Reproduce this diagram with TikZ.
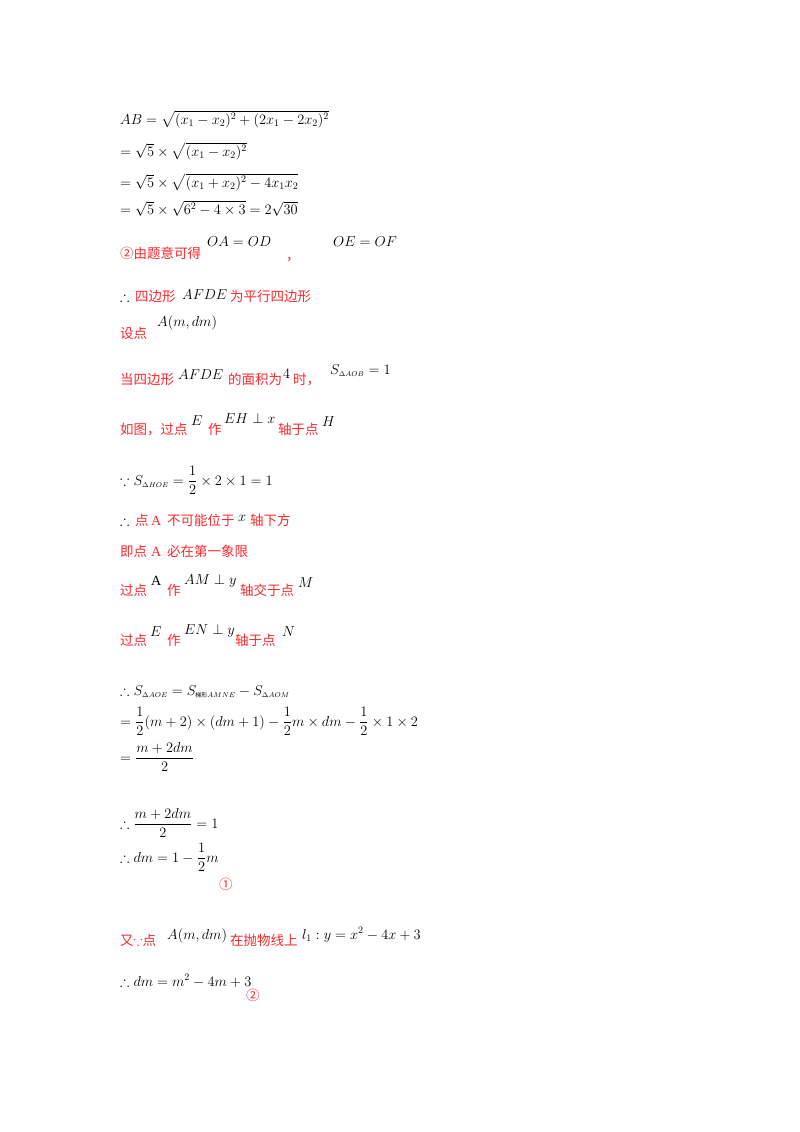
\documentclass[tikz,border=0pt]{standalone}
\usepackage{amsmath,amssymb}
\usepackage{fontspec}
\setmainfont{Liberation Serif}
\newfontfamily\cjk{Noto Sans CJK SC}
\definecolor{rd}{RGB}{250,40,45}
\begin{document}
\begin{tikzpicture}[x=1pt,y=-1pt,
 every node/.style={anchor=base west,inner sep=0pt,font=\fontsize{14}{17}\selectfont},
 r/.style={text=rd,font=\fontsize{13.5}{17}\selectfont\cjk}]
\useasboundingbox (0,0) rectangle (800,1132);
\node (l1) at (120,124) {$AB=\sqrt{(x_1-x_2)^2+(2x_1-2x_2)^2}$};
\node (l2) at (120,156) {$=\sqrt5\times\sqrt{(x_1-x_2)^2}$};
\node (l3) at (120,187) {$=\sqrt5\times\sqrt{(x_1+x_2)^2-4x_1x_2}$};
\node (l4) at (120,214) {$=\sqrt5\times\sqrt{6^2-4\times3}=2\sqrt{30}$};
\node[r] (a1) at (120,258) {②由题意可得};
\node (a2) at (207,246) {$OA=OD$};
\node[r] (a3) at (286,260) {，};
\node (a4) at (333,246) {$OE=OF$};
\node (b1) at (120,301) {$\therefore$};
\node[r] (b2) at (135,301) {四边形};
\node (b3) at (182,299) {$AFDE$};
\node[r] (b4) at (230,301) {为平行四边形};
\node[r] (c1) at (120,338) {设点};
\node (c2) at (157,326) {$A(m,dm)$};
\node[r] (d1) at (120,384) {当四边形};
\node (d2) at (178,379) {$AFDE$};
\node[r] (d3) at (228,384) {的面积为};
\node (d4) at (283,378) {$4$};
\node[r] (d5) at (293,384) {时，};
\node (d6) at (330,374) {$S_{\scriptscriptstyle\Delta AOB}=1$};
\node[r] (e1) at (120,434) {如图，过点};
\node (e2) at (191,425) {$E$};
\node[r] (e3) at (208,434) {作};
\node (e4) at (224,423) {$EH\perp x$};
\node[r] (e5) at (278,434) {轴于点};
\node (e6) at (322,426) {$H$};
\node (f1) at (120,485) {$\because S_{\scriptscriptstyle\Delta HOE}=\dfrac12\times2\times1=1$};
\node (g1) at (120,525) {$\therefore$};
\node[r] (g2) at (135,525) {点};
\node[text=rd] (g3) at (151,525) {A};
\node[r] (g4) at (167,525) {不可能位于};
\node (g5) at (238,521) {$x$};
\node[r] (g6) at (250,525) {轴下方};
\node[r] (h1) at (120,556) {即点};
\node[text=rd] (h2) at (151,556) {A};
\node[r] (h3) at (167,556) {必在第一象限};
\node[r] (i1) at (120,595) {过点};
\node (i2) at (151,585) {A};
\node[r] (i3) at (167,595) {作};
\node (i4) at (184,584) {$AM\perp y$};
\node[r] (i5) at (240,595) {轴交于点};
\node (i6) at (298,587) {$M$};
\node[r] (j1) at (120,645) {过点};
\node (j2) at (150,636) {$E$};
\node[r] (j3) at (167,645) {作};
\node (j4) at (184,634) {$EN\perp y$};
\node[r] (j5) at (235,645) {轴于点};
\node (j6) at (282,636) {$N$};
\node (k1) at (120,695) {$\therefore S_{\scriptscriptstyle\Delta AOE}=S_{\text{\cjk\fontsize{6}{6}\selectfont 梯形}\scriptscriptstyle AMNE}-S_{\scriptscriptstyle\Delta AOM}$};
\node (k2) at (120,726) {$=\dfrac12(m+2)\times(dm+1)-\dfrac12m\times dm-\dfrac12\times1\times2$};
\node (k3) at (120,762) {$=\dfrac{m+2dm}{2}$};
\node (k4) at (120,828) {$\therefore\dfrac{m+2dm}{2}=1$};
\node (k5) at (120,862) {$\therefore dm=1-\dfrac12m$};
\node[r] (k6) at (219,889) {①};
\node[r] (m1) at (120,945) {又$\because$点};
\node (m2) at (167,939) {$A(m,dm)$};
\node[r] (m3) at (230,945) {在抛物线上};
\node (m4) at (302,939) {$l_1:y=x^2-4x+3$};
\node (n1) at (120,986) {$\therefore dm=m^2-4m+3$};
\node[r] (n2) at (246,1000) {②};
\end{tikzpicture}
\end{document}
